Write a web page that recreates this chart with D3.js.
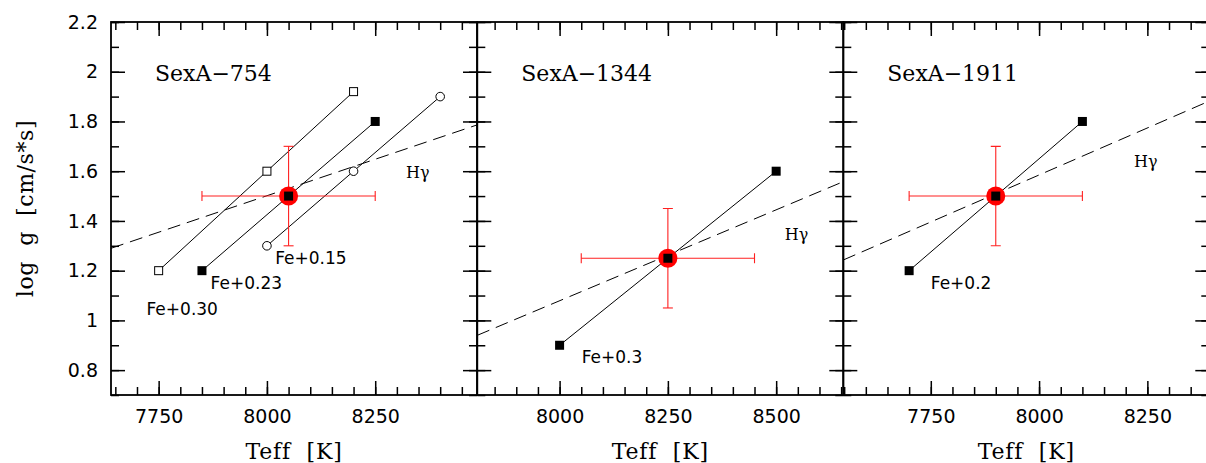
<!DOCTYPE html>
<html>
<head>
<meta charset="utf-8">
<script src="https://cdn.jsdelivr.net/npm/d3@7"></script>
<style>
  body { margin: 0; background: #fff; }
  svg { display: block; }
  .tick text { font-family: "DejaVu Sans", sans-serif; font-size: 19px; fill: #000; }
</style>
</head>
<body>
<div id="chart"></div>
<script>
// panel names
const panelNames = ["SexA\u2212754", "SexA\u22121344", "SexA\u22121911"];

// SexA-754 model tracks
const teff754Fe030 = [7750, 8000, 8200];
const logg754Fe030 = [1.20, 1.60, 1.92];
const teff754Fe023 = [7850, 8050, 8250];
const logg754Fe023 = [1.20, 1.50, 1.80];
const teff754Fe015 = [8000, 8200, 8400];
const logg754Fe015 = [1.30, 1.60, 1.90];

// SexA-1344
const teff1344 = [8000, 8250, 8500];
const logg1344 = [0.90, 1.25, 1.60];

// SexA-1911
const teff1911 = [7700, 7900, 8100];
const logg1911 = [1.20, 1.50, 1.80];

// adopted values with errors
const bestTeff = [8050, 8250, 7900];
const bestLogg = [1.50, 1.25, 1.50];
const errTeff = [200, 200, 200];
const errLogg = [0.2, 0.2, 0.2];

// H-gamma fit lines (end points)
const hgTeff = [[7640, 8485], [7810, 8655], [7548, 8393]];
const hgLogg = [[1.29, 1.786], [0.94, 1.558], [1.243, 1.882]];

// x range of each panel
const xDomains = [[7640, 8485], [7810, 8655], [7548, 8393]];
const yDomain = [0.7, 2.2];

// tick labels
const xTickLabels = [[7750, 8000, 8250], [8000, 8250, 8500], [7750, 8000, 8250]];
const yTickLabels = [0.8, 1, 1.2, 1.4, 1.6, 1.8, 2, 2.2];

// annotations [text, teff, logg]
const notes = [
  [["Fe+0.30", 7722, 1.02], ["Fe+0.23", 7870, 1.126], ["Fe+0.15", 8019, 1.227], ["H\u03b3", 8321, 1.573]],
  [["Fe+0.3", 8051, 0.828], ["H\u03b3", 8520, 1.323]],
  [["Fe+0.2", 7750, 1.126], ["H\u03b3", 8219, 1.618]]
];

const svgWidth = 1206;
const svgHeight = 463;
const topY = 22, bottomY = 395;
const panelW = 366;
const lefts = [111, 477.3, 843.3];

const svg = d3.select("#chart").append("svg")
  .attr("width", svgWidth)
  .attr("height", svgHeight);

const h = bottomY - topY;
const y = d3.scaleLinear().domain(yDomain).range([h, 0]);

const tracks = [
  [
    { teff: teff754Fe030, logg: logg754Fe030, mark: "openSquare" },
    { teff: teff754Fe023, logg: logg754Fe023, mark: "square" },
    { teff: teff754Fe015, logg: logg754Fe015, mark: "circle" }
  ],
  [{ teff: teff1344, logg: logg1344, mark: "square" }],
  [{ teff: teff1911, logg: logg1911, mark: "square" }]
];

const yFmt = d => String(+d.toFixed(1));
const yMinor = d3.range(0.7, 2.21, 0.1).map(d => +d.toFixed(1));

lefts.forEach((left, i) => {
  const x = d3.scaleLinear().domain(xDomains[i]).range([0, panelW]);
  const g = svg.append("g").attr("transform", `translate(${left},${topY})`);

  g.append("clipPath").attr("id", "clip" + i)
    .append("rect").attr("width", panelW).attr("height", h);

  const xMinor = d3.range(7500, 8800, 50).filter(v => v >= xDomains[i][0] && v <= xDomains[i][1]);

  const axisDefs = [
    [d3.axisBottom(x).tickValues(xMinor).tickSize(-8).tickFormat(""), `translate(0,${h})`],
    [d3.axisBottom(x).tickValues(xTickLabels[i]).tickSize(-14).tickPadding(15).tickFormat(d3.format("d")), `translate(0,${h})`],
    [d3.axisTop(x).tickValues(xMinor).tickSize(-8).tickFormat(""), null],
    [d3.axisTop(x).tickValues(xTickLabels[i]).tickSize(-14).tickFormat(""), null],
    [d3.axisLeft(y).tickValues(yMinor).tickSize(-8).tickFormat(""), null],
    [d3.axisLeft(y).tickValues(yTickLabels).tickSize(-14).tickPadding(13).tickFormat(i === 0 ? yFmt : ""), null],
    [d3.axisRight(y).tickValues(yMinor).tickSize(-8).tickFormat(""), `translate(${panelW},0)`],
    [d3.axisRight(y).tickValues(yTickLabels).tickSize(-14).tickFormat(""), `translate(${panelW},0)`]
  ];
  axisDefs.forEach(([ax, tr]) => {
    const a = g.append("g").call(ax);
    if (tr) a.attr("transform", tr);
    a.select(".domain").remove();
    a.selectAll(".tick line").attr("stroke", "#000").attr("stroke-width", 1.5);
  });

  g.append("rect")
    .attr("width", panelW).attr("height", h)
    .attr("fill", "none").attr("stroke", "#000").attr("stroke-width", 1.8);

  const plot = g.append("g").attr("clip-path", `url(#clip${i})`);

  // H-gamma dashed line
  plot.append("line")
    .attr("x1", x(hgTeff[i][0])).attr("y1", y(hgLogg[i][0]))
    .attr("x2", x(hgTeff[i][1])).attr("y2", y(hgLogg[i][1]))
    .attr("stroke", "#000").attr("stroke-width", 1)
    .attr("stroke-dasharray", "13,7");

  const line = d3.line().x(d => x(d[0])).y(d => y(d[1]));

  tracks[i].forEach(tr => {
    const pts = tr.teff.map((t, k) => [t, tr.logg[k]]);
    plot.append("path").attr("d", line(pts))
      .attr("fill", "none").attr("stroke", "#000").attr("stroke-width", 1);
    if (tr.mark === "circle") {
      plot.selectAll(null).data(pts).enter().append("circle")
        .attr("cx", d => x(d[0])).attr("cy", d => y(d[1])).attr("r", 4.3)
        .attr("fill", "#fff").attr("stroke", "#000").attr("stroke-width", 1);
    } else {
      const s = tr.mark === "square" ? 9 : 8;
      plot.selectAll(null).data(pts).enter().append("rect")
        .attr("x", d => x(d[0]) - s / 2).attr("y", d => y(d[1]) - s / 2)
        .attr("width", s).attr("height", s)
        .attr("fill", tr.mark === "square" ? "#000" : "#fff")
        .attr("stroke", "#000").attr("stroke-width", tr.mark === "square" ? 0 : 1);
    }
  });

  // error bars
  const bx = x(bestTeff[i]), by = y(bestLogg[i]);
  const xl = x(bestTeff[i] - errTeff[i]), xr = x(bestTeff[i] + errTeff[i]);
  const yt = y(bestLogg[i] + errLogg[i]), yb = y(bestLogg[i] - errLogg[i]);
  const eb = plot.append("g").attr("stroke", "#ff2020").attr("stroke-width", 1.1);
  eb.append("line").attr("x1", xl).attr("x2", xr).attr("y1", by).attr("y2", by);
  eb.append("line").attr("x1", bx).attr("x2", bx).attr("y1", yt).attr("y2", yb);
  eb.append("line").attr("x1", xl).attr("x2", xl).attr("y1", by - 5).attr("y2", by + 5);
  eb.append("line").attr("x1", xr).attr("x2", xr).attr("y1", by - 5).attr("y2", by + 5);
  eb.append("line").attr("x1", bx - 5).attr("x2", bx + 5).attr("y1", yt).attr("y2", yt);
  eb.append("line").attr("x1", bx - 5).attr("x2", bx + 5).attr("y1", yb).attr("y2", yb);

  plot.append("circle").attr("cx", bx).attr("cy", by).attr("r", 9.5).attr("fill", "#ff0000");
  plot.append("rect").attr("x", bx - 4.5).attr("y", by - 4.5)
    .attr("width", 9).attr("height", 9).attr("fill", "#000");

  // title
  g.append("text")
    .attr("x", 44).attr("y", 59)
    .attr("font-family", "DejaVu Serif, serif").attr("font-size", 22)
    .text(panelNames[i]);

  // annotations
  notes[i].forEach(([t, tx, ly]) => {
    const isH = t.startsWith("H");
    g.append("text")
      .attr("x", x(tx)).attr("y", y(ly))
      .attr("font-family", isH ? "DejaVu Serif, serif" : "DejaVu Sans, sans-serif")
      .attr("font-size", isH ? 16 : 17)
      .text(t);
  });

  // x title
  g.append("text")
    .attr("x", panelW / 2).attr("y", 459 - topY)
    .attr("text-anchor", "middle")
    .attr("font-family", "DejaVu Serif, serif").attr("font-size", 22)
    .attr("letter-spacing", 0.8)
    .style("white-space", "pre")
    .text("Teff  [K]");
});

// y title
svg.append("text")
  .attr("transform", `translate(33,${(topY + bottomY) / 2}) rotate(-90)`)
  .attr("text-anchor", "middle")
  .attr("font-family", "DejaVu Serif, serif").attr("font-size", 22)
  .attr("letter-spacing", 0.6)
  .style("white-space", "pre")
  .text("log  g  [cm/s*s]");
</script>
</body>
</html>
